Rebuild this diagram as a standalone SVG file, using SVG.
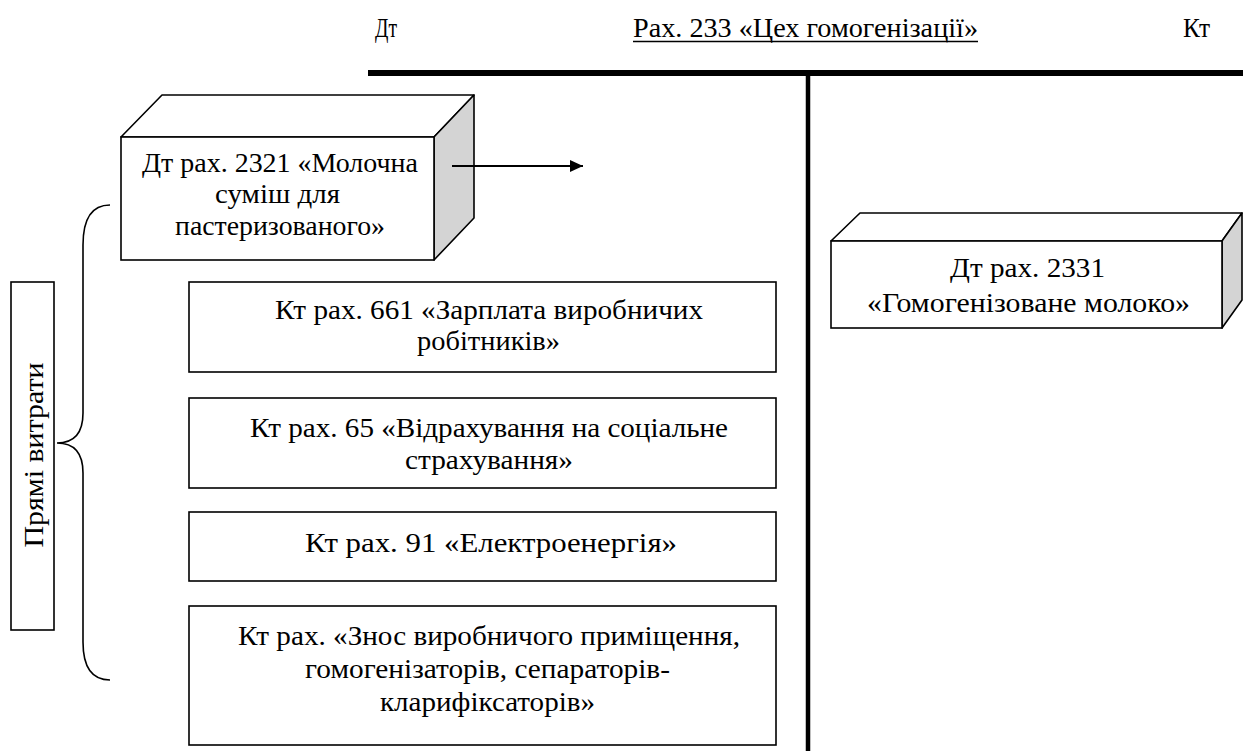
<svg xmlns="http://www.w3.org/2000/svg" width="1243" height="751" viewBox="0 0 1243 751" font-family="'Liberation Serif', Tinos, 'Noto Serif', 'DejaVu Serif', 'Times New Roman', serif">
  <style>
    text { font-family: 'Liberation Serif', Tinos, 'Noto Serif', 'DejaVu Serif', 'Times New Roman', serif; font-size: 27px; fill: #000; }
    .c { text-anchor: middle; }
    .box { fill: #fff; stroke: #000; stroke-width: 1.6; }
    .side { fill: #d4d4d4; stroke: #000; stroke-width: 1.6; stroke-linejoin: round; }
    .top { fill: #fff; stroke: #000; stroke-width: 1.6; stroke-linejoin: round; }
    .line { fill: none; stroke: #000; }
  </style>
  <defs>
    <marker id="arrow" markerWidth="13" markerHeight="12" refX="13" refY="6" orient="auto" markerUnits="userSpaceOnUse">
      <path d="M0,0 L13,6 L0,12 z" fill="#000"/>
    </marker>
  </defs>
  <rect width="1243" height="751" fill="#fff"/>

  <!-- T-account header -->
  <g id="account-header">
    <text x="375" y="37" textLength="22" lengthAdjust="spacingAndGlyphs">Дт</text>
    <text x="633" y="37" textLength="345" lengthAdjust="spacingAndGlyphs">Рах. 233 «Цех гомогенізації»</text>
    <line x1="633" y1="41.5" x2="978" y2="41.5" class="line" stroke-width="1.5"/>
    <text x="1183" y="37" textLength="27" lengthAdjust="spacingAndGlyphs">Кт</text>
  </g>

  <!-- T-account lines -->
  <g id="t-account">
    <line x1="368" y1="73" x2="1243" y2="73" class="line" stroke-width="6"/>
    <line x1="808" y1="70" x2="808" y2="751" class="line" stroke-width="4.5"/>
  </g>

  <!-- Debit cube -->
  <g id="cube-2321">
    <polygon class="top" points="121,137 162,95 474,95 434,137"/>
    <polygon class="side" points="434,137 474,95 474,218 434,260"/>
    <rect class="box" x="121" y="137" width="313" height="123"/>
    <text x="142" y="172" textLength="276" lengthAdjust="spacingAndGlyphs">Дт рах. 2321 «Молочна</text>
    <text x="215" y="203" textLength="125" lengthAdjust="spacingAndGlyphs">суміш для</text>
    <text x="175" y="235" textLength="210" lengthAdjust="spacingAndGlyphs">пастеризованого»</text>
  </g>

  <!-- Output cube -->
  <g id="cube-2331">
    <polygon class="top" points="831,241 860,213 1242,213 1222,241"/>
    <polygon class="side" points="1222,241 1242,213 1242,300 1222,328"/>
    <rect class="box" x="831" y="241" width="391" height="87"/>
    <text x="950" y="277" textLength="155" lengthAdjust="spacingAndGlyphs">Дт рах. 2331</text>
    <text x="867" y="312" textLength="323" lengthAdjust="spacingAndGlyphs">«Гомогенізоване молоко»</text>
  </g>

  <!-- Direct costs label -->
  <g id="direct-costs">
    <rect class="box" x="11" y="282" width="43" height="348"/>
    <text class="c" transform="translate(43,455) rotate(-90)" textLength="185" lengthAdjust="spacingAndGlyphs">Прямі витрати</text>
  </g>

  <!-- Credit boxes -->
  <g id="box-661">
    <rect class="box" x="189" y="282" width="587" height="90"/>
    <text x="275" y="319" textLength="428" lengthAdjust="spacingAndGlyphs">Кт рах. 661 «Зарплата виробничих</text>
    <text x="417" y="350" textLength="143" lengthAdjust="spacingAndGlyphs">робітників»</text>
  </g>
  <g id="box-65">
    <rect class="box" x="189" y="398" width="587" height="90"/>
    <text x="250" y="437" textLength="478" lengthAdjust="spacingAndGlyphs">Кт рах. 65 «Відрахування на соціальне</text>
    <text x="405" y="469" textLength="168" lengthAdjust="spacingAndGlyphs">страхування»</text>
  </g>
  <g id="box-91">
    <rect class="box" x="189" y="512" width="587" height="69"/>
    <text x="305" y="552" textLength="372" lengthAdjust="spacingAndGlyphs">Кт рах. 91 «Електроенергія»</text>
  </g>
  <g id="box-depreciation">
    <rect class="box" x="189" y="606" width="587" height="139"/>
    <text x="238" y="645" textLength="502" lengthAdjust="spacingAndGlyphs">Кт рах. «Знос виробничого приміщення,</text>
    <text x="305" y="678" textLength="365" lengthAdjust="spacingAndGlyphs">гомогенізаторів, сепараторів-</text>
    <text x="380" y="711" textLength="215" lengthAdjust="spacingAndGlyphs">кларифіксаторів»</text>
  </g>

  <!-- Connectors -->
  <g id="connectors">
    <line x1="452" y1="166" x2="583" y2="166" class="line" stroke-width="2" marker-end="url(#arrow)"/>
    <path class="line" stroke-width="1.6" d="M110,205 C92,205 83,218 83,245 L83,413 C83,432 75,443 57,443 C75,443 83,454 83,473 L83,642 C83,668 92,680 110,680"/>
  </g>
</svg>
